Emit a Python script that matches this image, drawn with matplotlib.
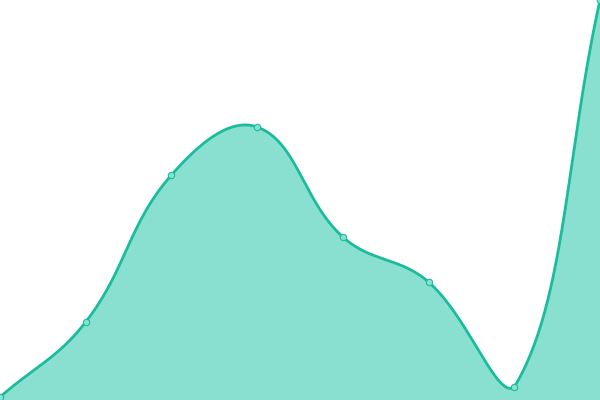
import numpy as np
import matplotlib
matplotlib.use("Agg")
import matplotlib.pyplot as plt

labels = ["1", "2", "3", "4", "5", "6", "7", "8"]
values = [3, 78, 225, 273, 163, 118, 13, 400]

line_color = "#1abc9c"
fill_color = "#8ae0d0"

W, H = 600, 400
fig = plt.figure(figsize=(6, 4), dpi=100)
ax = fig.add_axes([0, 0, 1, 1])
ax.set_xlim(0, len(labels) - 1)
ax.set_ylim(0, 400)
ax.axis("off")

# work in pixel space (chart.js-like spline, tension 0.4)
xs = np.arange(len(values)) * W / (len(values) - 1)
ys = np.array(values, dtype=float)
pts = np.column_stack([xs, ys])
n = len(pts)
t = 0.4
cp_prev = pts.copy()
cp_next = pts.copy()
for i in range(n):
    prev = pts[max(i - 1, 0)]
    cur = pts[i]
    nxt = pts[min(i + 1, n - 1)]
    d01 = np.hypot(*(cur - prev))
    d12 = np.hypot(*(nxt - cur))
    tot = d01 + d12
    s01 = d01 / tot if tot else 0
    s12 = d12 / tot if tot else 0
    cp_prev[i] = cur - t * s01 * (nxt - prev)
    cp_next[i] = cur + t * s12 * (nxt - prev)
cp_prev[:, 0] = np.clip(cp_prev[:, 0], 0, W)
cp_next[:, 0] = np.clip(cp_next[:, 0], 0, W)
cp_prev[:, 1] = np.clip(cp_prev[:, 1], 0, H)
cp_next[:, 1] = np.clip(cp_next[:, 1], 0, H)

tt = np.linspace(0, 1, 60)[:, None]
curve = []
for i in range(n - 1):
    p0, p1, p2, p3 = pts[i], cp_next[i], cp_prev[i + 1], pts[i + 1]
    seg = ((1 - tt) ** 3) * p0 + 3 * ((1 - tt) ** 2) * tt * p1 + 3 * (1 - tt) * tt ** 2 * p2 + tt ** 3 * p3
    curve.append(seg if i == 0 else seg[1:])
curve = np.vstack(curve)

cx = curve[:, 0] / W * (len(values) - 1)
cy = curve[:, 1]
ax.fill_between(cx, 0, cy, color=fill_color, linewidth=0)
ax.plot(cx, cy, color=line_color, linewidth=2.0, solid_capstyle="round")
ax.plot(np.arange(len(values)), values, linestyle="none", marker="o", markersize=4.6,
        markerfacecolor="#8ae0d0", markeredgecolor=line_color, markeredgewidth=0.8)

fig.savefig("out.png", dpi=100)
